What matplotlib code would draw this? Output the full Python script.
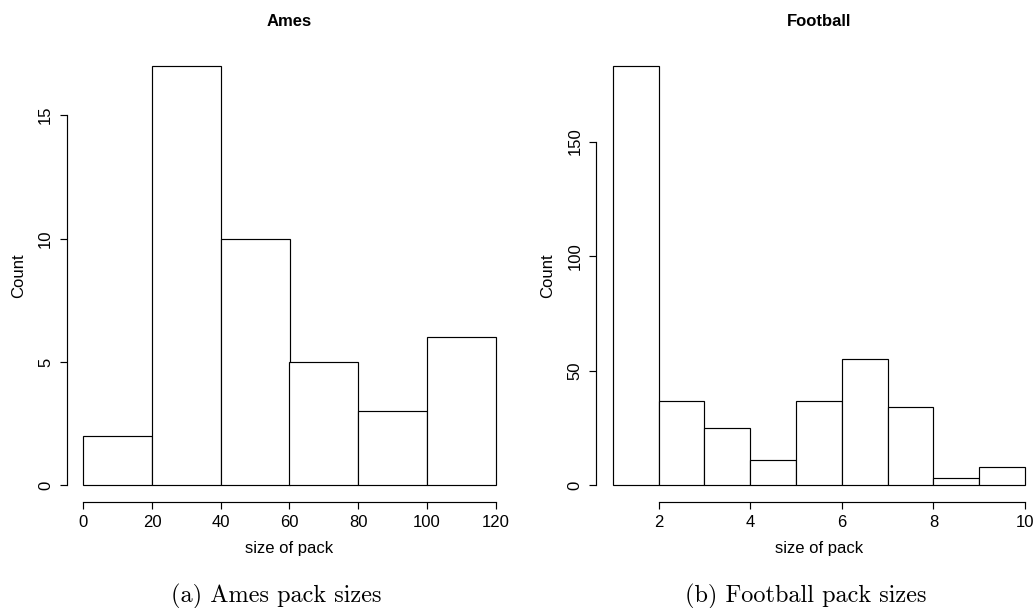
import numpy as np
import matplotlib
matplotlib.use('Agg')
import matplotlib.pyplot as plt

# ── pack-size histograms (bin edges + counts per bin) ──

ames_edges = [0, 20, 40, 60, 80, 100, 120]
ames_counts = [2, 17, 10, 5, 3, 6]
ames_xticks = [0, 20, 40, 60, 80, 100, 120]
ames_yticks = [0, 5, 10, 15]

football_edges = [1, 2, 3, 4, 5, 6, 7, 8, 9, 10]
football_counts = [183, 37, 25, 11, 37, 55, 34, 3, 8]
football_xticks = [2, 4, 6, 8, 10]
football_yticks = [0, 50, 100, 150]

W, H = 1036, 608
SANS = ['Liberation Sans', 'DejaVu Sans']


def r_hist(ax, edges, counts, xticks, yticks, title):
    """R-style histogram: open axes, 4% padding, rotated y labels"""
    edges = np.asarray(edges, dtype=float)
    counts = np.asarray(counts, dtype=float)
    ax.bar(edges[:-1], counts, width=np.diff(edges), align='edge',
           color='white', edgecolor='black', linewidth=0.85)

    xr = edges[-1] - edges[0]
    ax.set_xlim(edges[0] - 0.04 * xr, edges[-1] + 0.04 * xr)
    ymax = counts.max()
    ax.set_ylim(-0.04 * ymax, 1.04 * ymax)

    for s in ('top', 'right'):
        ax.spines[s].set_visible(False)
    ax.spines['bottom'].set_bounds(xticks[0], xticks[-1])
    ax.spines['left'].set_bounds(yticks[0], yticks[-1])
    for s in ('bottom', 'left'):
        ax.spines[s].set_linewidth(0.85)

    ax.set_xticks(xticks)
    ax.set_yticks(yticks)
    ax.tick_params(axis='both', direction='out', length=5, width=0.85,
                   labelsize=12)
    ax.tick_params(axis='x', pad=4)
    ax.tick_params(axis='y', pad=5, labelrotation=90)
    for lab in ax.get_yticklabels():
        lab.set_verticalalignment('center')
        lab.set_family(SANS)
    for lab in ax.get_xticklabels():
        lab.set_family(SANS)

    ax.set_xlabel('size of pack', fontsize=12, family=SANS, va='center')
    ax.set_ylabel('Count', fontsize=12, family=SANS, va='center')
    w_px = ax.get_position().width * W
    h_px = ax.get_position().height * H
    ax.xaxis.set_label_coords(0.5, -46 / h_px)
    ax.yaxis.set_label_coords(-48.5 / w_px, 0.5)
    ax.text(0.5, 1 + 28 / h_px, title, transform=ax.transAxes,
            ha='center', va='center', fontsize=12, fontweight='bold',
            family=SANS)


fig = plt.figure(figsize=(W / 100, H / 100), dpi=100)

top, bottom = 49.1, 502.1
ax1 = fig.add_axes([66.8 / W, 1 - bottom / H, 445.4 / W, (bottom - top) / H])
ax2 = fig.add_axes([596.2 / W, 1 - bottom / H, 445.4 / W, (bottom - top) / H])

r_hist(ax1, ames_edges, ames_counts, ames_xticks, ames_yticks, 'Ames')
r_hist(ax2, football_edges, football_counts, football_xticks, football_yticks,
       'Football')

# sub-figure captions
fig.text(276 / W, 1 - 602 / H, '(a) Ames pack sizes', ha='center',
         va='baseline', fontsize=17.5, family='cmr10')
fig.text(806 / W, 1 - 602 / H, '(b) Football pack sizes', ha='center',
         va='baseline', fontsize=17.5, family='cmr10')

fig.savefig('out.png', dpi=100)
